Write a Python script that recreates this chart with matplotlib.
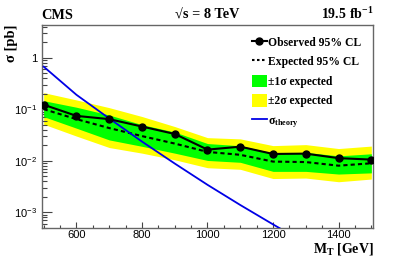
import math
import matplotlib
matplotlib.use("Agg")
import matplotlib.pyplot as plt
from matplotlib.ticker import LogLocator, FixedLocator, FuncFormatter
from matplotlib.patches import Patch
from matplotlib.lines import Line2D

plt.rcParams['font.family'] = 'Liberation Sans'
plt.rcParams['mathtext.fontset'] = 'custom'
plt.rcParams['mathtext.rm'] = 'Liberation Sans'
plt.rcParams['mathtext.bf'] = 'Liberation Serif:bold'
plt.rcParams['mathtext.it'] = 'Liberation Serif:bold'

# datos
mt = [500, 600, 700, 800, 900, 1000, 1100, 1200, 1300, 1400, 1500]
observado = [0.122, 0.074, 0.064, 0.046, 0.033, 0.0164, 0.0187, 0.0135, 0.0137, 0.0112, 0.0105]
esperado = [0.100, 0.064, 0.043, 0.030, 0.0215, 0.0148, 0.0130, 0.0096, 0.0094, 0.0080, 0.0089]
sig1_arriba = [0.146, 0.109, 0.077, 0.050, 0.0360, 0.0215, 0.0195, 0.0141, 0.0145, 0.0124, 0.0136]
sig1_abajo = [0.0716, 0.0427, 0.0253, 0.0190, 0.0140, 0.0101, 0.0093, 0.0062, 0.0062, 0.0055, 0.0058]
sig2_arriba = [0.209, 0.151, 0.107, 0.072, 0.046, 0.0280, 0.0265, 0.0196, 0.0205, 0.0172, 0.0192]
sig2_abajo = [0.051, 0.030, 0.0180, 0.0140, 0.0104, 0.0073, 0.0068, 0.0045, 0.0046, 0.0039, 0.0044]

mt_teo = [500, 600, 700, 800, 900, 1000, 1100, 1200, 1300]
sigma_teo = [0.668, 0.19, 0.066, 0.0235, 0.0088, 0.0034, 0.00138, 0.00058, 0.00025]

fig = plt.figure(figsize=(4.15, 2.59), dpi=100)
ax = fig.add_axes([0.1005, 0.1208, 0.799, 0.7827])

ax.fill_between(mt, sig2_abajo, sig2_arriba, color='#ffff00', lw=0, zorder=1)
ax.fill_between(mt, sig1_abajo, sig1_arriba, color='#00ff00', lw=0, zorder=2)
ax.plot(mt, esperado, color='black', lw=1.5, ls=(0, (2, 1.5)), zorder=3)
ax.plot(mt_teo, sigma_teo, color='#0000e6', lw=1.3, zorder=4)
ax.plot(mt, observado, color='black', lw=1.5, marker='o', ms=5, zorder=5)

ax.set_yscale('log')
ax.set_xlim(494, 1506)
ax.set_ylim(5.0e-4, 4.3)

ax.xaxis.set_major_locator(FixedLocator([600, 800, 1000, 1200, 1400]))
ax.xaxis.set_minor_locator(FixedLocator(range(500, 1501, 50)))
ax.yaxis.set_major_locator(LogLocator(base=10))
ax.yaxis.set_minor_locator(LogLocator(base=10, subs=range(2, 10)))


def etiqueta_y(v, pos):
    if abs(v - 1) < 1e-9:
        return '1'
    e = int(round(math.log10(v)))
    return r'$\mathregular{10^{%d}}$' % e


ax.yaxis.set_major_formatter(FuncFormatter(etiqueta_y))
ax.yaxis.set_minor_formatter(FuncFormatter(lambda v, p: ''))

ax.tick_params(axis='both', which='both', direction='in', colors='#444444',
               labelcolor='black', labelsize=8, top=False, right=False)
ax.tick_params(axis='x', which='major', length=4.3, width=0.8, pad=2)
ax.tick_params(axis='x', which='minor', length=2.2, width=0.8)
ax.tick_params(axis='y', which='major', length=7.2, width=0.8, pad=3.2)
ax.tick_params(axis='y', which='minor', length=3.6, width=0.8)
for s in ax.spines.values():
    s.set_color('#666666')
    s.set_linewidth(1.0)

serif = dict(family='Liberation Serif', weight='bold')
fig.text(0.1005, 0.9266, 'CMS', fontsize=10.3, ha='left', va='baseline', **serif)
fig.text(0.5, 0.9266, '\u221as = 8 TeV', fontsize=10.3, ha='center', va='baseline', **serif)
fig.text(0.8995, 0.9266, r'$\mathbf{19.5\ fb^{-1}}$', fontsize=10, ha='right', va='baseline')
fig.text(12 / 415, 0.9035, '\u03c3 [pb]', fontsize=10.5, rotation=90, ha='center', va='top', **serif)
fig.text(0.8995, 1 - 249 / 259, r'$\mathbf{M_{T}}$' + ' [GeV]', fontsize=10,
         ha='right', va='center', **serif)

handles = [
    Line2D([], [], color='black', lw=1.5, marker='o', ms=5),
    Line2D([], [], color='black', lw=1.5, ls=(0, (1.2, 1.2))),
    Patch(facecolor='#00ff00', edgecolor='none'),
    Patch(facecolor='#ffff00', edgecolor='none'),
    Line2D([], [], color='#0000e6', lw=1.3),
]
etiquetas = ['Observed 95% CL', 'Expected 95% CL', '\u00b11\u03c3 expected',
             '\u00b12\u03c3 expected', r'$\mathbf{\sigma_{theory}}$']
leg = fig.legend(handles, etiquetas, loc='upper left',
                 bbox_to_anchor=(251.7 / 415, 1 - 35.5 / 259),
                 frameon=False, borderpad=0, borderaxespad=0,
                 handlelength=1.28, handleheight=1.25, handletextpad=0.13,
                 labelspacing=0.56, prop=dict(family='Liberation Serif', weight='bold', size=8.4))

fig.savefig('out.png', dpi=100)
